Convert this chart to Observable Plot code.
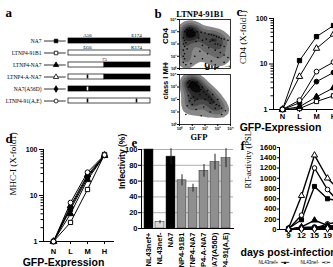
<!DOCTYPE html>
<html><head><meta charset="utf-8">
<script src="https://cdn.jsdelivr.net/npm/d3@7"></script>
<script src="https://cdn.jsdelivr.net/npm/@observablehq/plot@0.6"></script>
<style>
html,body{margin:0;padding:0;background:#fff;}
#fig{position:relative;width:333px;height:267px;overflow:hidden;background:#fff;}
</style></head><body><div id="fig"></div>
<script>
// ---------- DATA ----------
const constructs = ["NA7","LTNP4-91B1","LTNP4-NA7","LTNP4-A-NA7","NA7(A56D)","LTNP4-91(A,E)"];
// panel a: Nef schematic (residue numbers)
const segConstruct = ["NA7","LTNP4-91B1","LTNP4-NA7","LTNP4-NA7","LTNP4-A-NA7","LTNP4-A-NA7","NA7(A56D)","LTNP4-91(A,E)"];
const segFrom = [1,1,1,75,1,75,1,1];
const segTo = [206,206,75,206,75,206,206,206];
const segOrigin = ["NA7","LTNP4","LTNP4","NA7","LTNP4","NA7","NA7","LTNP4"];
const mutConstruct = ["LTNP4-A-NA7","NA7(A56D)","LTNP4-91(A,E)","LTNP4-91(A,E)"];
const mutPos = [56,56,56,174];
const mutOrigin = ["NA7","LTNP4","NA7","NA7"];
const annConstruct = ["NA7","NA7","LTNP4-91B1","LTNP4-91B1","LTNP4-NA7"];
const annPos = [56,174,56,174,75];
const annText = ["A56","E174","D56","K174","75"];
// panel b: flow cytometry (log10 decades)
const bTopGfp = [0.5,0.6,0.7,0.8,0.9,0.6,0.7,0.9,1.0,1.1,0.4,0.8,1.0,1.2, 1.4,1.7,2.0,2.3,2.5,2.7,2.9,3.1,3.3,3.5,3.8, 1.5,1.8,2.1,2.4,2.6,2.8,3.0,3.2,3.5,1.3,1.8,2.3,2.8,3.2,3.5,3.8, 0.3,0.4,0.3,0.4,0.3,0.4,0.3,0.4,0.3,0.5,0.5,0.6, 1.2,1.8,2.5,3.0,1.6,2.2,3.5,0.9,2.8];
const bTopCd4 = [3.1,3.2,3.1,3.3,3.1,2.9,2.8,2.9,3.2,3.0,3.0,2.7,2.7,2.9, 3.0,2.95,2.9,2.8,2.75,2.7,2.6,2.55,2.45,2.4,2.3, 2.5,2.3,2.4,2.2,2.3,2.0,2.0,1.9,1.8,2.2,1.9,1.7,1.5,1.3,1.1,0.9, 2.5,2.3,2.0,1.8,1.5,1.2,1.0,0.8,0.5,0.3,2.1,1.6, 1.0,0.8,0.6,0.9,1.4,1.2,0.5,0.4,0.3];
const bBotGfp = [0.6,0.7,0.8,0.9,1.0,1.1,0.8,1.2,0.7,1.0,1.3,1.4, 1.5,1.7,1.9,2.1,2.3,2.5,2.7,2.9,3.1,3.3,3.6,1.8,2.2,2.6,3.0,1.6,2.0,2.4,2.8, 0.7,0.9,1.1,0.8,1.2,1.0,1.4,0.6, 0.5,1.3,1.9,2.4,3.3,1.7];
const bBotMhc = [3.3,3.4,3.5,3.3,3.4,3.2,3.1,3.3,3.0,3.0,3.1,3.4, 3.0,2.8,2.6,2.4,2.2,2.0,1.8,1.6,1.5,1.3,1.1,3.0,2.7,2.4,2.0,2.4,2.0,1.7,1.3, 2.3,2.1,2.2,1.9,1.9,1.6,2.0,1.5, 0.8,1.2,1.4,1.0,0.8,0.7];
const bDecades = [0,1,2,3,4];
// panels c, d: fold down-regulation by GFP level
const gfpLevels = ["N","L","M","H"];
const cd4Fold = [[1,11.9,40,70],[1,1.05,1.5,2],[1,1.15,1.9,3],[1,5.3,22,45],[1,1.4,4.1,6.5],[1,1.6,6.8,11]];
const mhcFold = [[1,5,24,75],[1,2.6,13.5,78],[1,4,22,74],[1,6,28,75],[1,5.5,26,74],[1,7,32,76]];
const foldTicks = [1,10,100];
const foldMinor = [2,3,4,5,6,7,8,9,20,30,40,50,60,70,80,90];
// panel e: infectivity
const eLabels = ["NL43nef+","NL43nef-","NA7","LTNP4-91B1","LTNP4-NA7","LTNP4-A-NA7","NA7(A56D)","LTNP4-91(A,E)"];
const eValues = [100,8,91,61,51,73,84,89];
const eErrors = [0,2,10,7,5,8,10,12];
const eGroups = ["nef+","nef-","NA7","chimera","chimera","chimera","chimera","chimera"];
const eTicks = [0,20,40,60,80,100];
// panel f: RT activity
const days = [9,12,15,19,22];
const fNames = ["NL43nef+","NL43nef-","NA7","LTNP4-91B1","LTNP4-NA7","LTNP4-A-NA7","NA7(A56D)","LTNP4-91(A,E)"];
const fValues = [[20,190,840,600,550],[0,20,30,40,40],[20,660,1450,1000,750],[0,30,20,110,150],[0,50,180,80,60],[10,280,1200,780,500],[0,40,50,60,70],[0,10,10,20,20]];
const fTicks = [0,200,400,600,800,1000,1200,1400,1600];
const legendText = ["NL43nef+  ━■━         NL43nef-  ━□━"];

// ---------- STYLE ----------
const SANS = "'Liberation Sans', Arial, sans-serif";
const SERIF = "'Liberation Serif', 'Times New Roman', serif";
const css = (l,t,fam,w) => `position:absolute;left:${l}px;top:${t}px;background:transparent;overflow:hidden;max-width:none;font-family:${fam};font-weight:${w};`;
const fig = document.getElementById("fig");
const place = el => fig.appendChild(el);
const symC = ["square","square","triangle","triangle","circle","circle"];
const fillC = ["black","white","black","white","black","white"];
const letter = (t, dx, dy) => Plot.text([t], {frameAnchor:"top-left", dx, dy, textAnchor:"start", lineAnchor:"bottom", fontFamily:SERIF, fontWeight:"bold", fontSize:13});

// ---------- PANEL a ----------
// schematic (not-to-scale) layout of the Nef residues, legend key to the left of residue 1
const schematic = d3.scaleLinear().domain([-25,1,56,75,174,206]).range([0,24,43,60,92,106]);
const segRows = segConstruct.map((c,i)=>({construct:c, from:segFrom[i], to:segTo[i], origin:segOrigin[i]}));
const mutRows = mutConstruct.map((c,i)=>({construct:c, pos:mutPos[i], origin:mutOrigin[i]}));
const annRows = annConstruct.map((c,i)=>({construct:c, pos:annPos[i], text:annText[i]}));
place(Plot.plot({
  width:160, height:122, marginLeft:44, marginTop:20, marginRight:10, marginBottom:0,
  style: css(0,0,SERIF,"normal"),
  x:{transform:schematic, domain:[0,106], range:[44,150]},
  y:{type:"band", domain:constructs, range:[28.95,113.05], paddingInner:0.57, paddingOuter:0.57},
  color:{domain:["NA7","LTNP4","LTNP4-91B1","LTNP4-NA7","LTNP4-A-NA7","NA7(A56D)","LTNP4-91(A,E)"], range:["black","white","white","black","white","black","white"]},
  symbol:{domain:constructs, range:["square","square","triangle","triangle","diamond","circle"]},
  marks:[
    Plot.axisY({tickSize:0, tickPadding:3, fontSize:5.5, label:null}),
    Plot.ruleY(constructs, {y:d=>d, x1:-25, x2:-1.5, stroke:"black", strokeWidth:0.8}),
    Plot.dot(constructs, {y:d=>d, x:-12.5, symbol:d=>d, fill:d=>d, stroke:"black", r:2, strokeWidth:0.8}),
    Plot.barX(segRows, {y:"construct", x1:"from", x2:"to", fill:"origin", stroke:"black", strokeWidth:0.7}),
    Plot.tickX(mutRows, {y:"construct", x:"pos", stroke:"origin", strokeWidth:1.6, insetTop:0.6, insetBottom:0.6}),
    Plot.text(annRows, {y:"construct", x:"pos", text:"text", dy:-5.5, fontSize:5}),
    letter("a", -39, -4)
  ]
}));

// ---------- PANEL b ----------
const sup = d => "10" + "⁰¹²³⁴"[d];
const bTop = bTopGfp.map((g,i)=>({gfp:g, level:bTopCd4[i]}));
const bBot = bBotGfp.map((g,i)=>({gfp:g, level:bBotMhc[i]}));
const flow = (rows) => [
  Plot.density(rows, {x:"gfp", y:"level", bandwidth:4, thresholds:6, fill:"density", stroke:"none", clip:true}),
  Plot.dot(rows, {x:"gfp", y:"level", r:0.8, fill:"#000"}),
  Plot.frame({stroke:"black", strokeWidth:0.8}),
  Plot.axisY({ticks:bDecades, tickSize:2, tickPadding:1, fontSize:4, tickFormat:sup, label:null})
];
place(Plot.plot({
  width:95, height:70, marginLeft:39, marginRight:5, marginTop:19, marginBottom:2,
  style: css(140,0,SANS,"bold"),
  x:{domain:[0,4]}, y:{domain:[0,4]},
  color:{type:"linear", range:["#a8a8a8","#0a0a0a"]},
  marks:[
    ...flow(bTop),
    Plot.text(["LTNP4-91B1"], {frameAnchor:"top", dx:-5, dy:-3, lineAnchor:"bottom", fontFamily:SERIF, fontSize:8.5}),
    Plot.text(["CD4"], {frameAnchor:"left", rotate:-90, dx:-14, fontSize:8}),
    letter("b", -25, -2)
  ]
}));
place(Plot.plot({
  width:95, height:80, marginLeft:39, marginRight:5, marginTop:12, marginBottom:18,
  style: css(140,62,SANS,"bold"),
  x:{domain:[0,4]}, y:{domain:[0,4]},
  color:{type:"linear", range:["#a8a8a8","#0a0a0a"]},
  marks:[
    ...flow(bBot),
    Plot.axisX({ticks:bDecades, tickSize:2, tickPadding:1, fontSize:4, tickFormat:sup, label:null}),
    Plot.text(["class I MHC"], {frameAnchor:"left", rotate:-90, dx:-14, fontSize:7.5}),
    Plot.text(["GFP"], {frameAnchor:"bottom", dx:-6, dy:15, fontFamily:SERIF, fontSize:8.5})
  ]
}));

// ---------- PANELS c, d ----------
function foldPanel(values, left, top, w, h, mT, mB, xr, ylab, xlabDx, xlabDy, let_, ldx, ldy, tickPad) {
  const rows = constructs.flatMap((c,i)=>gfpLevels.map((g,j)=>({construct:c, gfp:g, fold:values[i][j]})));
  return Plot.plot({
    width:w, height:h, marginLeft:43, marginRight:w - xr[1], marginTop:mT, marginBottom:mB,
    style: css(left,top,SANS,"bold"),
    x:{type:"point", domain:gfpLevels, range:xr},
    y:{type:"log", domain:[1,100]},
    symbol:{domain:constructs, range:symC},
    color:{domain:constructs, range:fillC},
    marks:[
      Plot.axisY({ticks:foldMinor, tickSize:2.5, tickFormat:()=>"", label:null}),
      Plot.axisY({ticks:foldTicks, tickSize:4, tickPadding:2, fontSize:7, tickFormat:d=>String(d), label:null}),
      Plot.axisX({tickSize:3, tickPadding:tickPad, fontSize:7.5, label:null}),
      Plot.frame({anchor:"left"}), Plot.frame({anchor:"bottom"}),
      Plot.line(rows, {x:"gfp", y:"fold", z:"construct", stroke:"black", strokeWidth:1}),
      Plot.dot(rows, {x:"gfp", y:"fold", symbol:"construct", fill:"construct", stroke:"black", r:2.4, strokeWidth:1}),
      Plot.text([ylab], {frameAnchor:"left", rotate:-90, dx:-30, fontFamily:SERIF, fontWeight:"normal", fontSize:9}),
      Plot.text(["GFP-Expression"], {frameAnchor:"bottom", dx:xlabDx, dy:xlabDy, lineAnchor:"bottom", fontSize:10.5}),
      letter(let_, ldx, ldy)
    ]
  });
}
place(foldPanel(cd4Fold, 230, 0, 125, 135, 18, 26, [43,111], "CD4 (X-fold↓)", -27, 21, "c", -37, -3, 1));
place(foldPanel(mhcFold, 0, 130, 130, 137, 19, 26, [43,113], "MHC-I (X-fold↓)", -15, 24, "d", -38, -7, 4));

// ---------- PANEL e ----------
const eRows = eLabels.map((l,i)=>({label:l, value:eValues[i], err:eErrors[i], group:eGroups[i]}));
place(Plot.plot({
  width:125, height:137, marginLeft:26, marginRight:7, marginTop:19, marginBottom:39,
  style: css(115,130,SANS,"bold"),
  x:{type:"band", domain:eLabels, paddingInner:0.22, paddingOuter:0.05},
  y:{domain:[0,100]},
  color:{domain:["nef+","nef-","NA7","chimera"], range:["black","#d8d8d8","black","#8f8f8f"]},
  marks:[
    Plot.gridY({ticks:eTicks.slice(1), stroke:"#999", strokeOpacity:1, strokeWidth:0.8}),
    Plot.barY(eRows, {x:"label", y:"value", fill:"group", stroke:"#222", strokeWidth:0.5}),
    Plot.ruleX(eRows.filter(d=>d.err>0), {x:"label", y1:d=>d.value-d.err, y2:d=>d.value+d.err, stroke:"#222", strokeWidth:1}),
    Plot.frame({anchor:"left"}), Plot.frame({anchor:"bottom"}),
    Plot.axisY({ticks:eTicks, tickSize:3, tickPadding:1, fontSize:7.5, label:null}),
    Plot.axisX({tickRotate:-90, tickSize:0, tickPadding:4, fontSize:7.5, label:null}),
    Plot.text(["Infectivity (%)"], {frameAnchor:"left", rotate:-90, dx:-19, fontSize:8.5}),
    letter("e", -10, -3)
  ]
}));

// ---------- PANEL f ----------
const fRows = fNames.flatMap((n,i)=>days.map((d,j)=>({series:n, day:d, rt:fValues[i][j]})));
place(Plot.plot({
  width:125, height:137, marginLeft:54, marginRight:0, marginTop:17, marginBottom:38,
  style: css(225,130,SANS,"bold"),
  x:{type:"point", domain:days, range:[56,121.6]},
  y:{domain:[0,1600]},
  symbol:{domain:fNames, range:["square","square","triangle","circle","triangle","circle","circle","diamond"]},
  color:{domain:fNames, range:["black","white","white","white","black","white","black","white"]},
  marks:[
    Plot.frame({anchor:"left"}), Plot.frame({anchor:"bottom"}),
    Plot.axisY({ticks:fTicks, tickSize:2, tickPadding:1, fontSize:7.5, tickFormat:String, label:null}),
    Plot.axisX({tickSize:2, tickPadding:1, fontSize:8, tickFormat:String, label:null}),
    Plot.line(fRows, {x:"day", y:"rt", z:"series", stroke:"black", strokeWidth:1.4}),
    Plot.dot(fRows, {x:"day", y:"rt", symbol:"series", fill:"series", stroke:"black", r:2.3, strokeWidth:1}),
    Plot.text(["RT-activity (PSL)"], {frameAnchor:"left", rotate:-90, dx:-31, fontFamily:SERIF, fontWeight:"normal", fontSize:8.5}),
    Plot.text(["days post-infection"], {frameAnchor:"bottom-left", dx:-39, dy:26, textAnchor:"start", lineAnchor:"bottom", fontSize:10.5}),
    Plot.text(legendText, {frameAnchor:"bottom-left", dx:-21, dy:33, textAnchor:"start", lineAnchor:"middle", fontSize:4.5, fontWeight:"normal"}),
    letter("f", -39, 2)
  ]
}));
</script></body></html>
